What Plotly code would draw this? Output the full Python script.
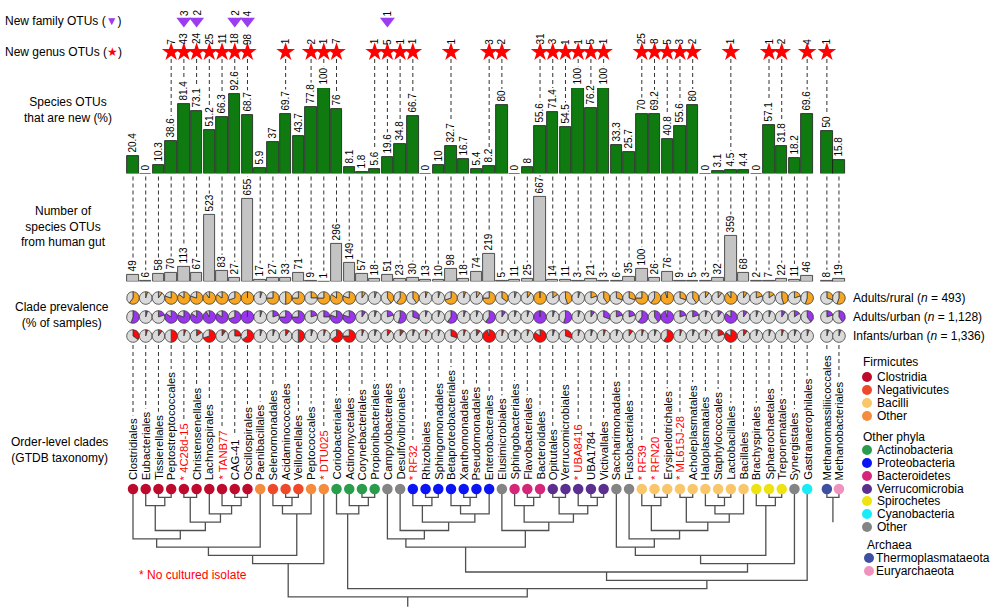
import plotly.graph_objects as go

# ---------------- data ----------------
ORDERS = ["Clostridiales", "Eubacteriales", "Tissierellales", "Peptostreptococcales", "4C28d-15",
          "Christensenellales", "Lachnospirales", "TANB77", "CAG-41", "Oscillospirales",
          "Paenibacillales", "Selenomonadales", "Acidaminococcales", "Veillonellales", "Peptococcales",
          "DTU025", "Coriobacteriales", "Actinomycetales", "Corynebacteriales", "Propionibacteriales",
          "Campylobacterales", "Desulfovibrionales", "RF32", "Rhizobiales", "Sphingomonadales",
          "Betaproteobacteriales", "Xanthomonadales", "Pseudomonadales", "Enterobacterales",
          "Elusimicrobiales", "Sphingobacteriales", "Flavobacteriales", "Bacteroidales", "Opitutales",
          "Verrucomicrobiales", "UBA8416", "UBA1784", "Victivallales", "Saccharimonadales",
          "Fusobacteriales", "RF39", "RFN20", "Erysipelotrichales", "ML615J-28", "Acholeplasmatales",
          "Haloplasmatales", "Staphylococcales", "Lactobacillales", "Bacillales", "Brachyspirales",
          "Sphaerochaetales", "Treponematales", "Synergistales", "Gastranaerophilales",
          "Methanomassiliicoccales", "Methanobacteriales"]

UNCULTURED = ["4C28d-15", "TANB77", "DTU025", "RF32", "UBA8416", "RF39", "RFN20", "ML615J-28"]

CLADE = ["Clostridia", "Clostridia", "Clostridia", "Clostridia", "Clostridia",
         "Clostridia", "Clostridia", "Clostridia", "Clostridia", "Clostridia",
         "FirmOther", "Negativicutes", "Negativicutes", "Negativicutes", "FirmOther",
         "FirmOther", "Actinobacteria", "Actinobacteria", "Actinobacteria", "Actinobacteria",
         "Other", "Other", "Proteobacteria", "Proteobacteria", "Proteobacteria",
         "Proteobacteria", "Proteobacteria", "Proteobacteria", "Proteobacteria",
         "Other", "Bacteroidetes", "Bacteroidetes", "Bacteroidetes", "Verrucomicrobia",
         "Verrucomicrobia", "Verrucomicrobia", "Verrucomicrobia", "Verrucomicrobia", "Other",
         "Other", "Bacilli", "Bacilli", "Bacilli", "Bacilli", "Bacilli",
         "Bacilli", "Bacilli", "Bacilli", "Bacilli", "Spirochetes",
         "Spirochetes", "Spirochetes", "Other", "Cyanobacteria",
         "Thermoplasmataeota", "Euryarchaeota"]

NEW_SPECIES_PCT = [20.4, 0, 10.3, 38.6, 81.4, 73.1, 51.2, 66.3, 92.6, 68.7,
                   5.9, 37, 69.7, 43.7, 77.8, 100, 76, 8.1, 1.8, 5.6,
                   19.6, 34.8, 66.7, 0, 10, 32.7, 16.7, 5.4, 8.2, 80,
                   0, 8, 55.6, 71.4, 54.5, 100, 76.2, 100, 33.3, 25.7,
                   70, 69.2, 40.8, 55.6, 80, 0, 3.1, 4.5, 4.4, 0,
                   57.1, 31.8, 18.2, 69.6, 50, 15.8]

HUMAN_GUT_OTUS = [49, 6, 58, 70, 113, 67, 523, 83, 27, 655,
                  17, 27, 33, 71, 9, 1, 296, 149, 57, 18,
                  51, 23, 30, 13, 10, 98, 18, 74, 219, 5,
                  11, 25, 667, 14, 11, 3, 21, 3, 6, 35,
                  100, 26, 76, 9, 5, 3, 32, 359, 68, 2,
                  7, 22, 11, 46, 8, 19]

NEW_GENUS = [0, 0, 0, 7, 43, 24, 25, 11, 18, 98,
             0, 0, 1, 0, 2, 1, 7, 0, 0, 1,
             5, 1, 1, 0, 0, 1, 0, 0, 3, 2,
             0, 0, 31, 3, 1, 1, 5, 1, 0, 0,
             25, 8, 5, 3, 2, 0, 0, 1, 0, 0,
             1, 2, 0, 4, 1, 0]

NEW_FAMILY = [0, 0, 0, 0, 3, 2, 0, 0, 2, 4,
              0, 0, 0, 0, 0, 0, 0, 0, 0, 0,
              1, 0, 0, 0, 0, 0, 0, 0, 0, 0,
              0, 0, 0, 0, 0, 0, 0, 0, 0, 0,
              0, 0, 0, 0, 0, 0, 0, 0, 0, 0,
              0, 0, 0, 0, 0, 0]

PREV_RURAL = [60, 5, 10, 80, 85, 80, 90, 85, 70, 100,
              5, 75, 50, 75, 25, 75, 85, 80, 10, 5,
              40, 60, 40, 5, 5, 70, 5, 10, 75, 35,
              5, 10, 100, 15, 45, 5, 20, 40, 30, 30,
              75, 60, 95, 30, 40, 10, 10, 90, 10, 20,
              15, 45, 20, 55, 30, 55]
PREV_URBAN = [55, 5, 20, 85, 80, 85, 92, 85, 70, 100,
              5, 20, 75, 75, 20, 25, 80, 80, 10, 5,
              20, 55, 30, 5, 5, 60, 5, 5, 60, 10,
              5, 5, 100, 5, 55, 5, 10, 30, 20, 20,
              60, 40, 95, 20, 20, 5, 10, 85, 10, 5,
              5, 10, 15, 40, 20, 40]
PREV_INFANT = [35, 5, 10, 50, 5, 15, 70, 10, 25, 65,
               5, 5, 10, 50, 5, 5, 65, 75, 5, 5,
               10, 10, 5, 5, 5, 30, 5, 10, 95, 5,
               5, 5, 85, 5, 30, 5, 5, 5, 5, 10,
               5, 5, 60, 5, 5, 5, 20, 85, 10, 5,
               5, 5, 5, 5, 5, 5]

POPULATIONS = ["Adults/rural (<i>n</i> = 493)", "Adults/urban (<i>n</i> = 1,128)",
               "Infants/urban (<i>n</i> = 1,336)"]

# tree: (node, left child, right child, merge level); ints are leaf numbers (1-based)
TREE_MERGES = [("a1", 3, 4, 1), ("a2", 2, "a1", 2), ("a3", 5, 6, 1), ("a4", 9, 10, 1),
               ("a5", 8, "a4", 2), ("a6", 7, "a5", 3), ("a7", "a3", "a6", 4), ("a8", "a2", "a7", 5),
               ("a9", 1, "a8", 6), ("a10", "a9", 11, 7), ("n1", 13, 14, 1), ("n2", 12, "n1", 2),
               ("n3", "n2", 15, 3), ("f1", "a10", "n3", 8), ("f2", "f1", 16, 9),
               ("ac1", 19, 20, 1), ("ac2", 18, "ac1", 2), ("ac3", 17, "ac2", 3),
               ("p1", 24, 25, 1), ("p2", 23, "p1", 2), ("p3", 27, 28, 1), ("p4", 26, "p3", 2),
               ("p5", "p4", 29, 3), ("p6", "p2", "p5", 4), ("p7", 22, "p6", 5), ("p8", 21, "p7", 6),
               ("b1", 32, 33, 1), ("b2", 31, "b1", 2), ("v1", 34, 35, 1), ("v2", 37, 38, 1),
               ("v3", 36, "v2", 2), ("v4", "v1", "v3", 3), ("b3", "b2", "v4", 4), ("b4", 30, "b3", 5),
               ("pb", "p8", "b4", 7),
               ("c1", 42, 43, 1), ("c2", 41, "c1", 2), ("c3", 47, 48, 1), ("c4", 46, "c3", 2),
               ("c5", "c4", 49, 3), ("c6", 44, 45, 1), ("c7", "c6", "c5", 4), ("c8", "c2", "c7", 5),
               ("c9", 40, "c8", 6), ("c10", 39, "c9", 7), ("s1", 51, 52, 1), ("s2", 50, "s1", 2),
               ("c11", "c10", "s2", 8), ("c12", "c11", 53, 9), ("r1", "pb", "c12", 10),
               ("r2", "r1", 54, 11), ("r3", "ac3", "r2", 12), ("root", "f2", "r3", 13),
               ("arch", 55, 56, 1)]
ROOT_STEMS = [("root", 14.2), ("arch", 4)]

COLORS = {"Clostridia": "#BE0A2C", "Negativicutes": "#EE4A2A", "Bacilli": "#F9C66A",
          "FirmOther": "#F58B3C", "Actinobacteria": "#2A9D4C", "Proteobacteria": "#0A14F5",
          "Bacteroidetes": "#D6267A", "Verrucomicrobia": "#5B2E8F", "Spirochetes": "#EEE310",
          "Cyanobacteria": "#18ECF8", "Other": "#848484", "Thermoplasmataeota": "#3E50A0",
          "Euryarchaeota": "#F092BE"}
LEGEND = [("Firmicutes", None), ("Clostridia", "Clostridia"), ("Negativicutes", "Negativicutes"),
          ("Bacilli", "Bacilli"), ("Other", "FirmOther"), ("Other phyla", None),
          ("Actinobacteria", "Actinobacteria"), ("Proteobacteria", "Proteobacteria"),
          ("Bacteroidetes", "Bacteroidetes"), ("Verrucomicrobia", "Verrucomicrobia"),
          ("Spirochetes", "Spirochetes"), ("Cyanobacteria", "Cyanobacteria"), ("Other", "Other"),
          ("Archaea", None), ("Thermoplasmataeota", "Thermoplasmataeota"),
          ("Euryarchaeota", "Euryarchaeota")]

# ---------------- layout constants ----------------
W, H = 1000, 614
FONT = "Liberation Sans, Arial, Helvetica, sans-serif"
X0, DX = 133.0, 12.72
N = len(ORDERS)
XPOS = [i + 1 for i in range(54)] + [55.55, 56.5]
G_BASE, G_SCALE = 173.5, 0.855          # green bars: px baseline, px per %
S_BASE, S_SCALE = 281.5, 84.5 / 667     # grey bars
S_MAX = 700
PIE_Y = [298, 317, 336]
PIE_R = 6.3
PIE_COLORS = ["#F6A623", "#9A35EE", "#FF0A0A"]
PIE_BG = "#DADADA"
STAR_Y, TRI_Y = 52, 21
LABEL_BOTTOM = 481
DOT_Y = 489
GREEN, GREY = "#0E7A10", "#C4C4C4"

def lev_px(level):
    return DOT_Y + 8.3 * level

def px_of(x):
    return X0 + (x - 1) * DX

AW = {' ': 278, '*': 389, '-': 333, '.': 278, '/': 278}
for ch in "0123456789":
    AW[ch] = 556
AW.update(dict(zip("ABCDEFGHIJKLMNOPQRSTUVWXYZ",
                   [667, 667, 722, 722, 667, 611, 778, 722, 278, 500, 667, 556, 833, 722, 778, 667,
                    778, 722, 667, 611, 722, 667, 944, 667, 667, 611])))
AW.update(dict(zip("abcdefghijklmnopqrstuvwxyz",
                   [556, 556, 500, 556, 556, 278, 556, 556, 222, 222, 500, 222, 833, 556, 556, 556,
                    556, 333, 500, 278, 556, 500, 722, 500, 500, 500])))

def tw(s, size):
    return sum(AW.get(c, 556) for c in s) * size / 1000.0

def fmt(v):
    return f"{v:g}"

fig = go.Figure()
annotations = []

# ---------------- dashed guide lines ----------------
dx_, dy_ = [], []
VAL_FONT = 10
for i in range(N):
    x = XPOS[i]
    gtop = G_BASE - NEW_SPECIES_PCT[i] * G_SCALE - 3 - tw(fmt(NEW_SPECIES_PCT[i]), VAL_FONT) - 2
    if NEW_GENUS[i]:
        dx_ += [x, x, None]; dy_ += [STAR_Y + 7, gtop, None]
    stop = S_BASE - HUMAN_GUT_OTUS[i] * S_SCALE - 3 - tw(fmt(HUMAN_GUT_OTUS[i]), VAL_FONT) - 2
    dx_ += [x, x, None]; dy_ += [G_BASE + 3, stop, None]
    lab = ("* " + ORDERS[i]) if ORDERS[i] in UNCULTURED else ORDERS[i]
    ltop = LABEL_BOTTOM - tw(lab, 11.3) - 4
    if ltop > 346:
        dx_ += [x, x, None]; dy_ += [345, ltop, None]
fig.add_trace(go.Scatter(x=dx_, y=dy_, mode="lines", xaxis="x", yaxis="y3",
                         line=dict(color="#333333", width=1, dash="4px,3px"),
                         hoverinfo="skip", showlegend=False))

# ---------------- bars ----------------
fig.add_trace(go.Bar(x=XPOS, y=NEW_SPECIES_PCT, width=0.9, xaxis="x", yaxis="y",
                     marker=dict(color=GREEN, line=dict(color="#1c1c1c", width=0.8)),
                     text=[fmt(v) for v in NEW_SPECIES_PCT], textposition="outside", textangle=-90,
                     textfont=dict(size=VAL_FONT, color="black", family=FONT),
                     constraintext="none", cliponaxis=False, hoverinfo="skip", showlegend=False))
fig.add_trace(go.Bar(x=XPOS, y=HUMAN_GUT_OTUS, width=0.9, xaxis="x", yaxis="y2",
                     marker=dict(color=GREY, line=dict(color="#2a2a2a", width=0.8)),
                     text=[fmt(v) for v in HUMAN_GUT_OTUS], textposition="outside", textangle=-90,
                     textfont=dict(size=VAL_FONT, color="black", family=FONT),
                     constraintext="none", cliponaxis=False, hoverinfo="skip", showlegend=False))

# ---------------- stars / triangles ----------------
sx = [XPOS[i] for i in range(N) if NEW_GENUS[i]]
fig.add_trace(go.Scatter(x=sx, y=[STAR_Y] * len(sx), mode="markers", xaxis="x", yaxis="y3",
                         marker=dict(symbol="star", size=14, color="#FF0000", line=dict(width=0)),
                         hoverinfo="skip", showlegend=False))
tx = [XPOS[i] for i in range(N) if NEW_FAMILY[i]]
fig.add_trace(go.Scatter(x=tx, y=[TRI_Y] * len(tx), mode="markers", xaxis="x", yaxis="y3",
                         marker=dict(symbol="triangle-down", size=13, color="#9B3CF0", line=dict(width=0)),
                         hoverinfo="skip", showlegend=False))
for i in range(N):
    if NEW_GENUS[i]:
        annotations.append(dict(x=XPOS[i], y=STAR_Y - 6.5, xref="x", yref="y3", text=str(NEW_GENUS[i]),
                                textangle=-90, xanchor="center", yanchor="bottom", showarrow=False,
                                borderpad=0, font=dict(size=VAL_FONT, color="black", family=FONT)))
    if NEW_FAMILY[i]:
        annotations.append(dict(x=XPOS[i], y=TRI_Y - 4, xref="x", yref="y3", text=str(NEW_FAMILY[i]),
                                textangle=-90, xanchor="center", yanchor="bottom", showarrow=False,
                                borderpad=0, font=dict(size=VAL_FONT, color="black", family=FONT)))

# ---------------- tree ----------------
pos = {}
lev = {}
for i in range(N):
    pos[i + 1] = XPOS[i]
    lev[i + 1] = None
tx_, ty_ = [], []
for name, a, b, L in TREE_MERGES:
    ya = DOT_Y if lev[a] is None else lev_px(lev[a])
    yb = DOT_Y if lev[b] is None else lev_px(lev[b])
    ym = lev_px(L)
    tx_ += [pos[a], pos[a], pos[b], pos[b], None]
    ty_ += [ya, ym, ym, yb, None]
    pos[name] = (pos[a] + pos[b]) / 2
    lev[name] = L
for name, L in ROOT_STEMS:
    tx_ += [pos[name], pos[name], None]
    ty_ += [lev_px(lev[name]), lev_px(L), None]
fig.add_trace(go.Scatter(x=tx_, y=ty_, mode="lines", xaxis="x", yaxis="y3",
                         line=dict(color="#505050", width=1.3), hoverinfo="skip", showlegend=False))
fig.add_trace(go.Scatter(x=XPOS, y=[DOT_Y] * N, mode="markers", xaxis="x", yaxis="y3",
                         marker=dict(size=10.5, color=[COLORS[c] for c in CLADE], line=dict(width=0)),
                         hoverinfo="skip", showlegend=False))

# ---------------- order labels ----------------
for i in range(N):
    unc = ORDERS[i] in UNCULTURED
    annotations.append(dict(x=XPOS[i], y=LABEL_BOTTOM, xref="x", yref="y3",
                            text=("* " + ORDERS[i]) if unc else ORDERS[i], textangle=-90,
                            xanchor="center", yanchor="bottom", showarrow=False, borderpad=0,
                            font=dict(size=11.3, color="#FF0000" if unc else "black", family=FONT)))

# ---------------- pies ----------------
for r, prev in enumerate([PREV_RURAL, PREV_URBAN, PREV_INFANT]):
    cy = PIE_Y[r]
    for i in range(N):
        cx = px_of(XPOS[i])
        fig.add_trace(go.Pie(values=[prev[i], 100 - prev[i]], sort=False, direction="counterclockwise",
                             rotation=0, textinfo="none", hoverinfo="skip", showlegend=False,
                             marker=dict(colors=[PIE_COLORS[r], PIE_BG], line=dict(color="#3a3a3a", width=0.8)),
                             domain=dict(x=[(cx - PIE_R) / W, (cx + PIE_R) / W],
                                         y=[1 - (cy + PIE_R) / H, 1 - (cy - PIE_R) / H])))
    annotations.append(dict(x=851, y=PIE_Y[r], xref="x2", yref="y3", text=POPULATIONS[r],
                            xanchor="left", yanchor="middle", showarrow=False,
                            font=dict(size=12, color="black", family=FONT)))

# ---------------- legend ----------------
leg_y = [362, 377, 390, 403, 416, 437, 450, 463, 476, 489, 501, 514, 527, 545, 558, 571]
lx, ly, lc = [], [], []
for (txt, key), y in zip(LEGEND, leg_y):
    if key is None:
        annotations.append(dict(x=861 if txt != "Archaea" else 865, y=y, xref="x2", yref="y3", text=txt,
                                xanchor="left", yanchor="middle", showarrow=False,
                                font=dict(size=12, color="black", family=FONT)))
    else:
        archaea = key in ("Thermoplasmataeota", "Euryarchaeota")
        lx.append(869 if archaea else 867); ly.append(y); lc.append(COLORS[key])
        annotations.append(dict(x=874 if archaea else 875, y=y, xref="x2", yref="y3", text=txt,
                                xanchor="left", yanchor="middle", showarrow=False,
                                font=dict(size=12, color="black", family=FONT)))
fig.add_trace(go.Scatter(x=lx, y=ly, mode="markers", xaxis="x2", yaxis="y3",
                         marker=dict(size=10, color=lc, line=dict(width=0)),
                         hoverinfo="skip", showlegend=False))

# ---------------- row titles ----------------
def title(text, x, y, anchor="center"):
    annotations.append(dict(x=x, y=y, xref="x2", yref="y3", text=text, xanchor=anchor,
                            yanchor="middle", align="center", showarrow=False,
                            font=dict(size=12, color="black", family=FONT)))

title("New family OTUs (<span style='color:#9B3CF0'>▼</span>)", 3, 21, "left")
title("New genus OTUs (<span style='color:#FF0000'>★</span>)", 3, 52, "left")
title("Species OTUs<br>that are new (%)", 68, 110)
title("Number of<br>species OTUs<br>from human gut", 63, 226)
title("Clade prevalence<br>(% of samples)", 62, 315)
title("Order-level clades<br>(GTDB taxonomy)", 59, 450)
annotations.append(dict(x=137, y=575, xref="x2", yref="y3", text="* No cultured isolate",
                        xanchor="left", yanchor="middle", showarrow=False,
                        font=dict(size=12, color="#FF0000", family=FONT)))

# ---------------- axes ----------------
hidden = dict(visible=False, showgrid=False, zeroline=False, fixedrange=True)
fig.update_layout(
    width=W, height=H, autosize=False,
    margin=dict(l=0, r=0, t=0, b=0, pad=0),
    paper_bgcolor="white", plot_bgcolor="rgba(0,0,0,0)",
    font=dict(family=FONT, color="black"),
    bargap=0, barmode="overlay",
    xaxis=dict(range=[1 - X0 / DX, 1 + (W - X0) / DX], domain=[0, 1], anchor="y", **hidden),
    yaxis=dict(range=[0, 100], domain=[1 - G_BASE / H, 1 - (G_BASE - 100 * G_SCALE) / H],
               anchor="x", **hidden),
    yaxis2=dict(range=[0, S_MAX], domain=[1 - S_BASE / H, 1 - (S_BASE - S_MAX * S_SCALE) / H],
                anchor="x", **hidden),
    yaxis3=dict(range=[H, 0], domain=[0, 1], anchor="x", **hidden),
    xaxis2=dict(range=[0, W], domain=[0, 1], anchor="y3", overlaying="x", **hidden),
    annotations=annotations,
)

fig.write_html("out.html", config={"displayModeBar": False},
               post_script="document.body.style.margin='0';")
